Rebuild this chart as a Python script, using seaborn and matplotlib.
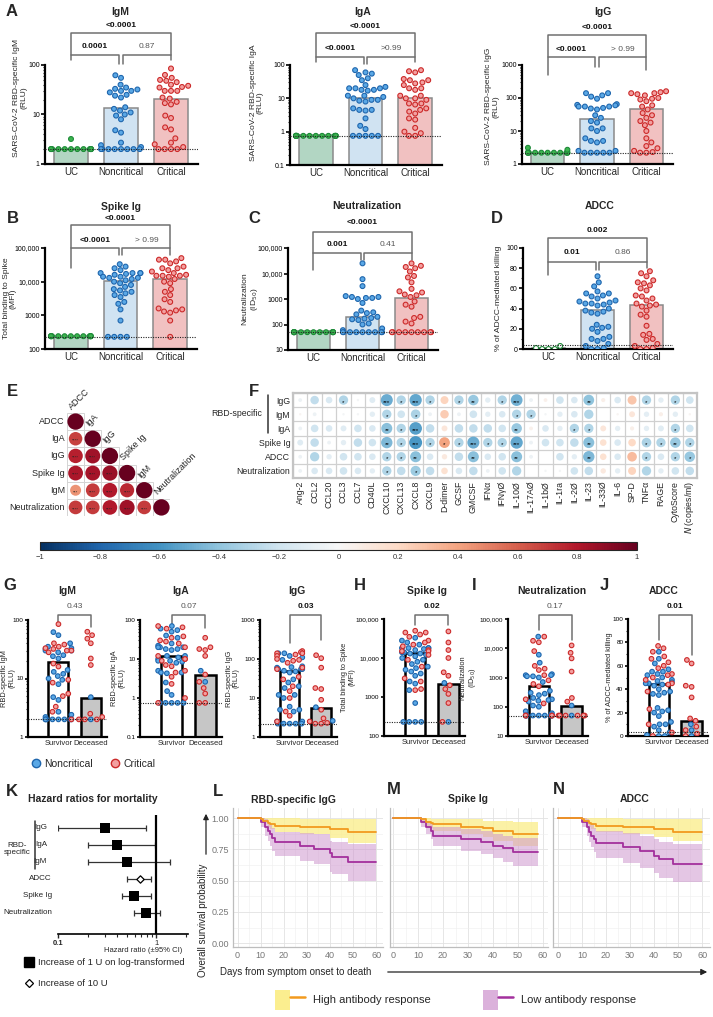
import numpy as np
import pandas as pd
import matplotlib
matplotlib.use("Agg")
import matplotlib.pyplot as plt
import seaborn as sns
from matplotlib.ticker import FixedLocator, LogLocator, NullFormatter, MultipleLocator
from matplotlib.lines import Line2D
from matplotlib.patches import Rectangle, Patch, FancyArrowPatch
from matplotlib.colors import to_rgba, Normalize
from matplotlib.cm import ScalarMappable
from matplotlib.legend_handler import HandlerTuple
import matplotlib.transforms as mtransforms
import warnings
warnings.filterwarnings("ignore")

sns.set_theme(style="ticks")
plt.rcParams["font.family"] = ["Liberation Sans", "DejaVu Sans"]

# ---------------------------------------------------------------
# data: panels A-D (UC / Noncritical / Critical)
# ---------------------------------------------------------------
IgM_UC = [2.0, 2.0, 2.0, 2.0, 2.0, 2.0, 2.0, 2.0, 2.0, 2.0, 2.0, 2.0, 3.2]
IgM_NC = [62, 55, 40, 35, 33, 32, 30, 30, 28, 25, 24, 22, 14, 13, 12, 11, 10, 9.5, 8, 4.8, 4.3,
          2.7, 2.4, 2.2, 2.0, 2.0, 2.0, 2.0, 2.0, 2.0, 2.0, 2.0]
IgM_CR = [85, 63, 55, 50, 48, 45, 40, 38, 36, 35, 30, 30, 30, 22, 21, 18, 17, 16, 9.5, 8.5, 5.5,
          5.0, 3.3, 2.7, 2.5, 2.2, 2.0, 2.0, 2.0, 2.0]
IgM_bars = [2.0, 13.5, 21]

IgA_UC = [0.75, 0.75, 0.75, 0.75, 0.75, 0.75, 0.75, 0.75, 0.75, 0.75, 0.75, 0.75, 0.75, 0.75]
IgA_NC = [70, 60, 55, 50, 40, 35, 25, 22, 20, 20, 20, 18, 18, 17, 12, 12, 11, 10, 9.0, 9.0, 8.5,
          8.0, 5.0, 4.5, 4.5, 4.3, 2.5, 1.5, 1.2, 0.75, 0.75, 0.75, 0.75, 0.75]
IgA_CR = [70, 65, 60, 38, 35, 35, 30, 28, 25, 20, 20, 18, 12, 12, 10, 10, 9.0, 7.0, 7.0, 6.5, 5.0,
          4.5, 4.0, 3.5, 2.5, 2.3, 1.3, 1.0, 0.9, 0.75, 0.75]
IgA_bars = [0.8, 10.5, 10.5]

IgG_UC = [2.2, 2.2, 2.2, 2.2, 2.2, 2.2, 2.2, 2.2, 2.2, 2.2, 2.2, 2.2, 2.7, 3.1]
IgG_NC = [140, 140, 120, 110, 95, 65, 62, 60, 55, 55, 55, 50, 48, 45, 30, 25, 20, 18, 12, 12, 10,
          6.0, 5.0, 5.0, 4.5, 2.5, 2.5, 2.2, 2.2, 2.2, 2.2, 2.2]
IgG_CR = [160, 150, 140, 140, 130, 120, 100, 95, 90, 80, 60, 55, 45, 35, 30, 25, 20, 18, 15, 10,
          6.0, 4.5, 3.5, 3.0, 2.5, 2.3, 2.2, 2.2]
IgG_bars = [2.2, 23, 46]

Spike_UC = [240, 240, 240, 240, 240, 240, 240, 240, 240, 240, 240, 240, 240, 240]
Spike_NC = [33000, 28000, 25000, 22000, 18000, 18000, 18000, 18000, 17000, 16000, 14000, 14000,
            13000, 13000, 12000, 11000, 10000, 9000, 8000, 7000, 6000, 5500, 5000, 4500, 4000,
            3500, 2500, 2200, 1500, 700, 230, 230, 230, 230]
Spike_CR = [50000, 45000, 45000, 40000, 35000, 28000, 25000, 25000, 22000, 20000, 18000, 16000,
            15000, 15000, 15000, 14000, 12000, 10000, 9000, 6000, 5000, 4000, 3000, 2500, 1600,
            1500, 1400, 1300, 1200, 700, 230]
Spike_bars = [240, 10500, 12000]

Neut_UC = [50, 50, 50, 50, 50, 50, 50, 50, 50, 50, 50, 50, 50, 50]
Neut_NC = [25000, 6000, 3200, 1300, 1200, 1200, 1100, 1100, 1000, 700, 350, 300, 280, 250, 200,
           180, 170, 160, 150, 110, 100, 70, 60, 50, 50, 50, 50, 50, 50, 50, 50, 50]
Neut_CR = [25000, 20000, 18000, 16000, 12000, 8000, 7000, 4500, 2500, 2000, 1800, 1500, 1400,
           1200, 800, 600, 500, 200, 180, 130, 110, 50, 50, 50, 50, 50, 50, 50, 50, 50]
Neut_bars = [55, 200, 1100]

ADCC_UC = [0, 3, 0, 1, 0]
ADCC_NC = [72, 66, 62, 57, 55, 55, 53, 52, 50, 48, 47, 46, 45, 45, 44, 43, 40, 38, 37, 36, 35,
           24, 22, 21, 20, 17, 12, 10, 10, 8, 5, 3, 1, 0, 0]
ADCC_CR = [77, 75, 72, 68, 66, 65, 63, 60, 58, 53, 52, 50, 48, 45, 44, 43, 42, 38, 34, 32, 23,
           15, 14, 10, 9, 5, 3, 1, 0, 0]
ADCC_bars = [0.5, 38.5, 43.5]

# ---------------------------------------------------------------
# data: panels G-J (Survivor / Deceased), survivor noncritical = lists above
# ---------------------------------------------------------------
G_IgM_S_CR = [85, 40, 38, 35, 33, 32, 30, 30, 28, 18, 16, 9.5, 8.5, 5.5, 5.0, 3.3, 2.7, 2.0]
G_IgM_D_NC = [4.8, 2.0]
G_IgM_D_CR = [63, 55, 48, 40, 22, 17, 2.5, 2.2, 2.0, 2.0, 2.0]
G_IgM_bars = [19, 4.7]

G_IgA_S_CR = [70, 65, 60, 38, 35, 30, 28, 25, 20, 12, 10, 10, 9.0, 7.0, 6.5, 5.0, 4.5, 3.5, 2.3,
              1.0, 0.75]
G_IgA_D_NC = [5.0, 2.6]
G_IgA_D_CR = [35, 20, 18, 17, 12, 4.0, 2.6, 1.8, 1.3, 0.75, 0.75]
G_IgA_bars = [12, 4.0]

G_IgG_S_CR = [160, 150, 140, 140, 130, 120, 100, 95, 90, 80, 60, 55, 35, 30, 20, 15, 10, 4.5,
              3.5, 2.5]
G_IgG_D_NC = [5.8, 2.6]
G_IgG_D_CR = [125, 105, 60, 18, 17, 9.0, 5.0, 3.0, 2.5, 2.3, 2.2, 2.2]
G_IgG_bars = [48, 5.7]

H_S_CR = [50000, 45000, 45000, 40000, 35000, 28000, 25000, 22000, 20000, 16000, 15000, 15000,
          12000, 9000, 6000, 3000, 2500, 1600, 1500]
H_D_NC = [2300, 230]
H_D_CR = [48000, 25000, 16000, 10000, 4300, 3500, 2000, 1600, 1200, 700, 230]
H_bars = [13500, 2200]

I_S_CR = [25000, 18000, 16000, 8000, 2500, 2000, 1800, 1200, 800, 600, 500, 180, 130, 50, 50,
          50, 50]
I_D_NC = [110, 50]
I_D_CR = [12500, 7000, 4500, 1600, 200, 150, 50, 50, 50, 50, 50, 50]
I_bars = [520, 110]

J_S_CR = [77, 75, 72, 68, 66, 63, 60, 58, 53, 52, 50, 48, 45, 44, 38, 23, 10, 3, 0]
J_D_NC = [10, 5, 0]
J_D_CR = [65, 62, 43, 42, 33, 15, 13, 8, 5, 2, 0]
J_bars = [44.5, 13]

# ---------------------------------------------------------------
# data: panel E (correlation between antibody readouts)
# ---------------------------------------------------------------
E_labels = ["ADCC", "IgA", "IgG", "Spike Ig", "IgM", "Neutralization"]
E_r = [[1.0],
       [0.68, 1.0],
       [0.78, 0.85, 1.0],
       [0.82, 0.83, 0.86, 1.0],
       [0.45, 0.70, 0.80, 0.75, 1.0],
       [0.70, 0.70, 0.80, 0.85, 0.70, 1.0]]
E_stars = [[""],
           ["****", ""],
           ["****", "****", ""],
           ["****", "****", "****", ""],
           ["***", "****", "****", "****", ""],
           ["****", "****", "****", "****", "****", ""]]

# ---------------------------------------------------------------
# data: panel F (correlation with cytokines)
# ---------------------------------------------------------------
F_rows = ["IgG", "IgM", "IgA", "Spike Ig", "ADCC", "Neutralization"]
F_cols = ["Ang-2", "CCL2", "CCL20", "CCL3", "CCL7", "CD40L", "CXCL10", "CXCL13", "CXCL8",
          "CXCL9", "D-dimer", "GCSF", "GMCSF", "IFNα", "IFNγØ", "IL-10Ø", "IL-17AØ", "IL-1bØ",
          "IL-1ra", "IL-2Ø", "IL-23", "IL-33Ø", "IL-6", "SP-D", "TNFα", "RAGE", "CytoScore",
          r"$\it{N}$ (copies/ml)"]
F_IgG = [-0.05, -0.25, -0.15, -0.3, -0.02, -0.12, -0.5, -0.3, -0.52, -0.3, 0.22, -0.3, -0.38,
         -0.1, -0.3, -0.48, -0.05, 0.05, -0.2, -0.15, -0.4, 0.06, -0.15, 0.28, -0.3, -0.1, -0.3, -0.2]
F_IgM = [0.02, -0.05, 0.0, -0.02, -0.02, -0.1, -0.3, -0.2, -0.32, -0.05, 0.25, -0.05, -0.2,
         -0.1, -0.15, -0.3, -0.3, -0.02, -0.1, -0.15, -0.3, 0.0, 0.02, 0.12, -0.1, 0.06, -0.1, 0.02]
F_IgA = [-0.05, -0.2, -0.15, -0.12, -0.2, -0.15, -0.42, -0.3, -0.55, -0.25, 0.12, -0.25, -0.25,
         -0.25, -0.2, -0.38, 0.05, -0.15, -0.1, -0.3, -0.3, 0.12, -0.1, 0.06, -0.1, -0.12, -0.3, -0.2]
F_Spike = [-0.12, -0.25, -0.05, -0.1, -0.25, -0.2, -0.45, -0.3, -0.58, -0.3, 0.4, -0.3, -0.5,
           -0.3, -0.3, -0.52, -0.05, -0.2, -0.2, -0.25, -0.42, 0.15, -0.15, 0.2, -0.32, -0.3, -0.38, -0.3]
F_ADCC = [-0.05, -0.3, -0.1, -0.2, -0.2, -0.15, -0.3, -0.3, -0.42, -0.15, 0.1, -0.25, -0.42,
          -0.15, -0.2, -0.42, -0.05, 0.0, -0.2, -0.1, -0.45, 0.15, -0.15, 0.32, -0.3, -0.15, -0.3, -0.38]
F_Neut = [-0.05, -0.15, -0.15, -0.2, -0.15, -0.1, -0.3, -0.25, -0.36, -0.25, 0.15, -0.15, -0.25,
          -0.05, -0.2, -0.3, 0.0, -0.02, -0.02, -0.2, -0.25, 0.1, -0.1, 0.22, -0.3, -0.1, -0.2, -0.25]
F_stars_IgG = {3: "*", 6: "***", 7: "*", 8: "***", 9: "*", 11: "*", 12: "**", 14: "*", 15: "***",
               20: "**", 24: "*", 26: "*"}
F_stars_IgM = {6: "*", 8: "*", 15: "*", 16: "*"}
F_stars_IgA = {6: "**", 7: "*", 8: "***", 15: "**", 19: "*", 20: "*", 26: "*"}
F_stars_Spike = {6: "**", 7: "*", 8: "***", 9: "*", 10: "*", 11: "*", 12: "***", 13: "*", 14: "*",
                 15: "***", 20: "**", 24: "*", 25: "*", 26: "**", 27: "*"}
F_stars_ADCC = {6: "*", 7: "*", 8: "**", 12: "**", 15: "**", 20: "**", 24: "*", 26: "*", 27: "*"}
F_stars_Neut = {6: "*", 8: "*"}

# ---------------------------------------------------------------
# data: panel K (hazard ratios)
# ---------------------------------------------------------------
K_labels = ["IgG", "IgA", "IgM", "ADCC", "Spike Ig", "Neutralization"]
K_hr = [0.30, 0.40, 0.50, 0.69, 0.59, 0.79]
K_lo = [0.10, 0.20, 0.20, 0.50, 0.45, 0.59]
K_hi = [0.79, 0.96, 1.39, 0.89, 0.89, 1.08]
K_marker = ["s", "s", "s", "D", "s", "s"]

# ---------------------------------------------------------------
# data: panels L-N (survival curves)
# ---------------------------------------------------------------
L_high_t = [0, 10, 11, 13, 14, 16, 27, 40, 48, 60]
L_high_s = [1.00, 0.99, 0.98, 0.96, 0.95, 0.94, 0.93, 0.91, 0.89, 0.89]
L_high_lo = [1.00, 0.98, 0.96, 0.93, 0.91, 0.89, 0.87, 0.84, 0.80, 0.80]
L_high_hi = [1.00, 1.00, 1.00, 1.00, 1.00, 1.00, 0.99, 0.99, 0.99, 0.99]
L_low_t = [0, 10, 12, 13, 14, 15, 16, 27, 33, 40, 41, 48, 60]
L_low_s = [1.00, 0.97, 0.93, 0.90, 0.87, 0.84, 0.81, 0.78, 0.75, 0.72, 0.69, 0.65, 0.65]
L_low_lo = [1.00, 0.93, 0.86, 0.82, 0.78, 0.74, 0.70, 0.66, 0.63, 0.57, 0.55, 0.50, 0.50]
L_low_hi = [1.00, 1.00, 0.99, 0.97, 0.95, 0.92, 0.89, 0.88, 0.87, 0.82, 0.81, 0.79, 0.79]

M_high_t = [0, 11, 13, 15, 16, 27, 36, 40, 48, 58]
M_high_s = [1.00, 0.99, 0.97, 0.96, 0.95, 0.93, 0.92, 0.90, 0.87, 0.87]
M_high_lo = [1.00, 0.97, 0.94, 0.92, 0.90, 0.87, 0.85, 0.82, 0.78, 0.78]
M_high_hi = [1.00, 1.00, 1.00, 0.99, 0.99, 0.99, 0.98, 0.98, 0.97, 0.97]
M_low_t = [0, 11, 13, 15, 16, 27, 35, 40, 44, 48, 58]
M_low_s = [1.00, 0.97, 0.93, 0.90, 0.86, 0.83, 0.81, 0.78, 0.76, 0.73, 0.73]
M_low_lo = [1.00, 0.93, 0.87, 0.83, 0.78, 0.74, 0.71, 0.68, 0.65, 0.62, 0.62]
M_low_hi = [1.00, 1.00, 0.98, 0.96, 0.93, 0.91, 0.90, 0.87, 0.86, 0.84, 0.84]

N_high_t = [0, 10, 11, 13, 14, 16, 27, 40, 48, 60]
N_high_s = [1.00, 0.99, 0.98, 0.96, 0.95, 0.94, 0.93, 0.91, 0.89, 0.89]
N_high_lo = [1.00, 0.98, 0.96, 0.93, 0.91, 0.89, 0.87, 0.85, 0.82, 0.82]
N_high_hi = [1.00, 1.00, 1.00, 1.00, 1.00, 1.00, 0.99, 0.99, 0.99, 0.99]
N_low_t = [0, 10, 12, 13, 14, 15, 16, 27, 34, 40, 42, 48, 60]
N_low_s = [1.00, 0.97, 0.93, 0.89, 0.86, 0.83, 0.80, 0.77, 0.74, 0.70, 0.67, 0.63, 0.63]
N_low_lo = [1.00, 0.93, 0.86, 0.81, 0.77, 0.73, 0.68, 0.64, 0.60, 0.56, 0.52, 0.49, 0.49]
N_low_hi = [1.00, 1.00, 0.99, 0.97, 0.95, 0.92, 0.90, 0.88, 0.86, 0.83, 0.81, 0.79, 0.79]

# ---------------------------------------------------------------
# figure helpers (pixel based layout)
# ---------------------------------------------------------------
W, H = 713, 1017
fig = plt.figure(figsize=(W / 100, H / 100), dpi=100)


def box(l, t, r, b):
    return [l / W, 1 - b / H, (r - l) / W, (b - t) / H]


def ftext(x, y, s, **kw):
    fig.text(x / W, 1 - y / H, s, **kw)


def letter(x, y, s):
    ftext(x, y, s, fontsize=12, fontweight="bold", ha="center", va="center")


GROUPS = ["UC", "Noncritical", "Critical"]
OUTCOMES = ["Survivor", "Deceased"]
BLUE_F, BLUE_E = "#5aa8e6", "#1f66ad"
RED_F, RED_E = "#f3a0a0", "#cc2a2a"
GREEN_F, GREEN_E = "#3cb54f", "#1f8a3a"
BAR_FILL = ["#acdcc3", "#cae4f8", "#f9b9b9"]


def set_edges(collections, fills, edges):
    fl = np.array([to_rgba(c) for c in fills])
    ed = [to_rgba(c) for c in edges]
    for coll in collections:
        fc = coll.get_facecolors()
        if len(fc) == 0:
            continue
        idx = [int(np.argmin(((fl - c) ** 2).sum(axis=1))) for c in fc]
        coll.set_edgecolors([ed[i] for i in idx])


def style_axis(ax, bx, log, ylim, ticks, ticklabels, ylabel, xfs, tfs, lfs, lab_right,
               lab_y=0.5, tlen=3.0):
    ax.set_ylim(*ylim)
    ax.yaxis.set_major_locator(FixedLocator(ticks))
    ax.set_yticklabels(ticklabels, fontsize=tfs)
    if log:
        ax.yaxis.set_minor_locator(LogLocator(base=10, subs=np.arange(2, 10)))
        ax.yaxis.set_minor_formatter(NullFormatter())
    else:
        ax.yaxis.set_minor_locator(MultipleLocator(10))
    ax.set_ylabel(ylabel, fontsize=lfs, linespacing=1.05)
    l, t, r, b = bx
    ax.yaxis.set_label_coords((lab_right - l) / (r - l), lab_y)
    ax.set_xlabel("")
    sns.despine(ax=ax)
    for s in ["left", "bottom"]:
        ax.spines[s].set_linewidth(1.6)
        ax.spines[s].set_color("black")
    ax.tick_params(axis="y", which="major", width=1.2, length=tlen, pad=0.8, colors="black")
    ax.tick_params(axis="y", which="minor", width=0.8, length=tlen * 0.55)
    ax.tick_params(axis="x", length=0, labelsize=xfs, pad=2)


def bracket(ax, bx, x0, x1, y, leg0, leg1, label, ly, bold):
    l, t, r, b = bx
    f = lambda yy: (b - yy) / (b - t)
    tr = ax.get_xaxis_transform()
    ax.plot([x0, x0, x1, x1], [f(leg0), f(y), f(y), f(leg1)], color="#707070", lw=1.1,
            transform=tr, clip_on=False)
    ax.text((x0 + x1) / 2, f(ly), label, transform=tr, ha="center", va="center", fontsize=6,
            fontweight="bold" if bold else "normal", color="#111111" if bold else "#555555")


def group_panel(bx, uc, nc, cr, bars, lod, log, ylim, ticks, ticklabels, ylabel, lab_right,
                lab_y=0.5, uc_fill=GREEN_F):
    ax = fig.add_axes(box(*bx))
    if log:
        ax.set_yscale("log")
    sns.barplot(x=GROUPS, y=bars, hue=GROUPS, palette=BAR_FILL, edgecolor="#8a8a8a",
                linewidth=1.1, width=0.68, legend=False, ax=ax)
    df = pd.DataFrame({"group": ["UC"] * len(uc) + ["Noncritical"] * len(nc) + ["Critical"] * len(cr),
                       "value": uc + nc + cr})
    n0 = len(ax.collections)
    sns.swarmplot(data=df, x="group", y="value", hue="group", order=GROUPS, hue_order=GROUPS,
                  palette={"UC": uc_fill, "Noncritical": BLUE_F, "Critical": RED_F},
                  size=3.5, linewidth=0.8, legend=False, ax=ax)
    set_edges(ax.collections[n0:], [uc_fill, BLUE_F, RED_F], [GREEN_E, BLUE_E, RED_E])
    ax.axhline(lod, ls=(0, (1, 1.2)), color="#222222", lw=0.8, zorder=5)
    ax.set_xlim(-0.52, 2.54)
    style_axis(ax, bx, log, ylim, ticks, ticklabels, ylabel, 7, 5, 6.1, lab_right, lab_y)
    return ax


def group_brackets(ax, bx, ytop, lytop, ylow, lylow, legs, pv, bold):
    bracket(ax, bx, 0, 2, ytop, ylow, ylow, pv[0], lytop, bold[0])
    bracket(ax, bx, 0, 0.96, ylow, legs[0], legs[1], pv[1], lylow, bold[1])
    bracket(ax, bx, 1.04, 2, ylow, legs[1], legs[2], pv[2], lylow, bold[2])


def outcome_panel(bx, s_nc, s_cr, d_nc, d_cr, bars, lod, log, ylim, ticks, ticklabels, ylabel,
                  lab_right):
    ax = fig.add_axes(box(*bx))
    if log:
        ax.set_yscale("log")
    sns.barplot(x=OUTCOMES, y=bars, hue=OUTCOMES, palette=["white", "#c6c6c6"], edgecolor="black",
                linewidth=1.8, width=0.62, legend=False, ax=ax)
    df = pd.DataFrame({
        "outcome": ["Survivor"] * (len(s_nc) + len(s_cr)) + ["Deceased"] * (len(d_nc) + len(d_cr)),
        "severity": ["Noncritical"] * len(s_nc) + ["Critical"] * len(s_cr)
                    + ["Noncritical"] * len(d_nc) + ["Critical"] * len(d_cr),
        "value": s_nc + s_cr + d_nc + d_cr})
    n0 = len(ax.collections)
    sns.swarmplot(data=df, x="outcome", y="value", hue="severity", order=OUTCOMES,
                  hue_order=["Noncritical", "Critical"],
                  palette={"Noncritical": BLUE_F, "Critical": RED_F},
                  size=3.3, linewidth=0.8, legend=False, ax=ax)
    set_edges(ax.collections[n0:], [BLUE_F, RED_F], [BLUE_E, RED_E])
    ax.axhline(lod, ls=(0, (1, 1.2)), color="#222222", lw=0.8, zorder=5)
    ax.set_xlim(-0.94, 1.5)
    style_axis(ax, bx, log, ylim, ticks, ticklabels, ylabel, 5.5, 4.6, 5.3, lab_right, tlen=2.5)
    return ax


# ---------------------------------------------------------------
# A: IgM, IgA, IgG
# ---------------------------------------------------------------
bA1 = (45, 65, 198, 164)
ax = group_panel(bA1, IgM_UC, IgM_NC, IgM_CR, IgM_bars, 2.0, True, (1, 100), [1, 10, 100],
                 ["1", "10", "100"], "SARS-CoV-2 RBD-specific IgM\n(RLU)", 27, 0.67)
group_brackets(ax, bA1, 33, 26, 55, 47, [60, 64, 60], ["<0.0001", "0.0001", "0.87"], [True, True, False])

bA2 = (290, 65, 442, 165)
ax = group_panel(bA2, IgA_UC, IgA_NC, IgA_CR, IgA_bars, 0.75, True, (0.1, 100), [0.1, 1, 10, 100],
                 ["0.1", "1", "10", "100"], "SARS-CoV-2 RBD-specific IgA\n(RLU)", 264, 0.62)
group_brackets(ax, bA2, 33, 27, 57, 49, [62, 64, 62], ["<0.0001", "<0.0001", ">0.99"], [True, True, False])

bA3 = (522, 65, 673, 164)
ax = group_panel(bA3, IgG_UC, IgG_NC, IgG_CR, IgG_bars, 2.2, True, (1, 1000), [1, 10, 100, 1000],
                 ["1", "10", "100", "1000"], "SARS-CoV-2 RBD-specific IgG\n(RLU)", 499, 0.58)
group_brackets(ax, bA3, 35, 28, 57, 50, [75, 67, 70], ["<0.0001", "<0.0001", "> 0.99"], [True, True, False])

# ---------------------------------------------------------------
# B, C, D
# ---------------------------------------------------------------
bB = (45, 248, 197, 349)
ax = group_panel(bB, Spike_UC, Spike_NC, Spike_CR, Spike_bars, 230, True, (100, 100000),
                 [100, 1000, 10000, 100000], ["100", "1000", "10,000", "100,000"],
                 "Total binding to Spike\n(MFI)", 17)
group_brackets(ax, bB, 225, 218, 248, 240, [268, 255, 255], ["<0.0001", "<0.0001", "> 0.99"], [True, True, False])

bC = (288, 248, 438, 350)
ax = group_panel(bC, Neut_UC, Neut_NC, Neut_CR, Neut_bars, 50, True, (10, 100000),
                 [10, 100, 1000, 10000, 100000], ["10", "100", "1000", "10,000", "100,000"],
                 "Neutralization\n(ID$_{50}$)", 260)
group_brackets(ax, bC, 232, 223, 253, 245, [270, 260, 260], ["<0.0001", "0.001", "0.41"], [True, True, False])

bD = (523, 248, 673, 349)
ax = group_panel(bD, ADCC_UC, ADCC_NC, ADCC_CR, ADCC_bars, 3.5, False, (0, 100),
                 [0, 20, 40, 60, 80, 100], ["0", "20", "40", "60", "80", "100"],
                 "% of ADCC-mediated killing", 502, uc_fill="white")
group_brackets(ax, bD, 238, 230, 262, 253, [275, 270, 268], ["0.002", "0.01", "0.86"], [True, True, False])

# ---------------------------------------------------------------
# E: correlation triangle
# ---------------------------------------------------------------
axE = fig.add_axes(box(67, 413, 170, 516))
rowsE = []
for i, name in enumerate(E_labels):
    for j in range(i + 1):
        rowsE.append({"row": i, "col": j, "r": E_r[i][j], "stars": E_stars[i][j]})
dfE = pd.DataFrame(rowsE)
dfE["size"] = dfE["r"].abs()
for _, rw in dfE.iterrows():
    axE.add_patch(Rectangle((rw["col"] - 0.5, rw["row"] - 0.5), 1, 1, fill=False,
                            ec="#d4d4d4", lw=0.7, zorder=0))
sns.scatterplot(data=dfE, x="col", y="row", hue="r", hue_norm=(-1, 1), palette="RdBu_r",
                size="size", size_norm=(0, 1), sizes=(0, 139), linewidth=0, legend=False, ax=axE)
for _, rw in dfE.iterrows():
    if rw["stars"]:
        axE.text(rw["col"], rw["row"] + 0.12, rw["stars"], ha="center", va="center", fontsize=3.2,
                 color="#222222")
axE.set_xlim(-0.5, 5.5)
axE.set_ylim(5.5, -0.5)
axE.axis("off")
for i, name in enumerate(E_labels):
    axE.text(-0.62, i, name, ha="right", va="center", fontsize=6.5)
    axE.text(i - 0.15, i - 0.62, name, ha="left", va="bottom", rotation=45,
             rotation_mode="anchor", fontsize=6.5)

# ---------------------------------------------------------------
# F: correlation with cytokines
# ---------------------------------------------------------------
axF = fig.add_axes(box(293, 393, 697, 478))
F_r = [F_IgG, F_IgM, F_IgA, F_Spike, F_ADCC, F_Neut]
F_st = [F_stars_IgG, F_stars_IgM, F_stars_IgA, F_stars_Spike, F_stars_ADCC, F_stars_Neut]
rowsF = []
for i in range(len(F_rows)):
    for j in range(len(F_cols)):
        rowsF.append({"row": i, "col": j, "r": F_r[i][j], "stars": F_st[i].get(j, "")})
dfF = pd.DataFrame(rowsF)
dfF["size"] = dfF["r"].abs()
sns.scatterplot(data=dfF, x="col", y="row", hue="r", hue_norm=(-1, 1), palette="RdBu_r",
                size="size", size_norm=(0, 1), sizes=(0, 150), linewidth=0, legend=False, ax=axF)
for _, rw in dfF.iterrows():
    if rw["stars"]:
        axF.text(rw["col"], rw["row"] + 0.15, rw["stars"], ha="center", va="center", fontsize=4.5,
                 color="black")
axF.set_xlim(-0.5, len(F_cols) - 0.5)
axF.set_ylim(len(F_rows) - 0.5, -0.5)
axF.set_xticks(range(len(F_cols)))
axF.set_xticklabels(F_cols, rotation=90, fontsize=6.3)
axF.set_yticks(range(len(F_rows)))
axF.set_yticklabels(F_rows, fontsize=6.3)
axF.set_xticks(np.arange(-0.5, len(F_cols), 1), minor=True)
axF.set_yticks(np.arange(-0.5, len(F_rows), 1), minor=True)
axF.grid(False)
axF.grid(which="minor", color="#d0d0d0", lw=0.9)
axF.set_axisbelow(True)
axF.tick_params(which="both", length=0, pad=2)
axF.set_xlabel("")
axF.set_ylabel("")
for s in axF.spines.values():
    s.set_color("#c4c4c4")
    s.set_linewidth(1.6)
ftext(262, 414, "RBD-specific", ha="right", va="center", fontsize=6.3)
fig.add_artist(Line2D([268 / W, 268 / W], [1 - 395 / H, 1 - 433 / H], color="#333333", lw=1.1,
                      transform=fig.transFigure))

# colour bar
cax = fig.add_axes(box(40, 542, 637, 550))
cb = fig.colorbar(ScalarMappable(norm=Normalize(-1, 1), cmap="RdBu_r"), cax=cax,
                  orientation="horizontal")
cb_ticks = [-1, -0.8, -0.6, -0.4, -0.2, 0, 0.2, 0.4, 0.6, 0.8, 1]
cb.set_ticks(cb_ticks)
cb.set_ticklabels(["−1", "−0.8", "−0.6", "−0.4", "−0.2", "0", "0.2", "0.4", "0.6", "0.8", "1"])
cb.ax.tick_params(length=0, labelsize=5.5, colors="#333333", pad=3)
cb.outline.set_linewidth(0.8)

# ---------------------------------------------------------------
# G-J: survivor vs deceased
# ---------------------------------------------------------------
bG1 = (28, 620, 107, 737)
ax = outcome_panel(bG1, IgM_NC, G_IgM_S_CR, G_IgM_D_NC, G_IgM_D_CR, G_IgM_bars, 2.0, True,
                   (1, 100), [1, 10, 100], ["1", "10", "100"], "RBD-specific IgM\n(RLU)", 15)
bracket(ax, bG1, 0, 1, 615, 625, 627, "0.43", 607, False)

bG2 = (140, 620, 222, 737)
ax = outcome_panel(bG2, IgA_NC, G_IgA_S_CR, G_IgA_D_NC, G_IgA_D_CR, G_IgA_bars, 0.75, True,
                   (0.1, 100), [0.1, 1, 10, 100], ["0.1", "1", "10", "100"], "RBD-specific IgA\n(RLU)", 125)
bracket(ax, bG2, 0, 1, 615, 625, 628, "0.07", 607, False)

bG3 = (260, 620, 337, 737)
ax = outcome_panel(bG3, IgG_NC, G_IgG_S_CR, G_IgG_D_NC, G_IgG_D_CR, G_IgG_bars, 2.2, True,
                   (1, 1000), [1, 10, 100, 1000], ["1", "10", "100", "1000"], "RBD-specific IgG\n(RLU)", 240)
bracket(ax, bG3, 0, 1, 615, 643, 640, "0.03", 607, True)

bH = (384, 619, 465, 736)
ax = outcome_panel(bH, Spike_NC, H_S_CR, H_D_NC, H_D_CR, H_bars, 230, True, (100, 100000),
                   [100, 1000, 10000, 100000], ["100", "1000", "10,000", "100,000"],
                   "Total binding to Spike\n(MFI)", 355)
bracket(ax, bH, 0, 1, 615, 625, 625, "0.02", 607, True)

bI = (508, 619, 588, 736)
ax = outcome_panel(bI, Neut_NC, I_S_CR, I_D_NC, I_D_CR, I_bars, 50, True, (10, 100000),
                   [10, 100, 1000, 10000, 100000], ["10", "100", "1000", "10,000", "100,000"],
                   "Neutralization\n(ID$_{50}$)", 478)
bracket(ax, bI, 0, 1, 615, 630, 640, "0.17", 607, False)

bJ = (628, 619, 708, 736)
ax = outcome_panel(bJ, ADCC_NC, J_S_CR, J_D_NC, J_D_CR, J_bars, 3.5, False, (0, 100),
                   [0, 20, 40, 60, 80, 100], ["0", "20", "40", "60", "80", "100"],
                   "% of ADCC-mediated killing", 613)
bracket(ax, bJ, 0, 1, 615, 640, 655, "0.01", 607, True)

sev_handles = [Line2D([], [], marker="o", ls="none", mfc=BLUE_F, mec=BLUE_E, mew=1.0, markersize=6),
               Line2D([], [], marker="o", ls="none", mfc=RED_F, mec=RED_E, mew=1.0, markersize=6)]
fig.legend(sev_handles, ["Noncritical", "Critical"], loc="center left",
           bbox_to_anchor=(31 / W, 1 - 764 / H), ncol=2, frameon=False, fontsize=7.5,
           handletextpad=0.3, handlelength=1.0, columnspacing=1.6, borderpad=0, borderaxespad=0)

# ---------------------------------------------------------------
# K: hazard ratios
# ---------------------------------------------------------------
axK = fig.add_axes(box(58, 815, 188, 934))
axK.set_xscale("log")
ky = list(range(len(K_labels)))
xerr = [[h - lo for h, lo in zip(K_hr, K_lo)], [hi - h for h, hi in zip(K_hr, K_hi)]]
axK.errorbar(K_hr, ky, xerr=xerr, fmt="none", ecolor="#333333", elinewidth=0.9, capsize=2,
             capthick=0.9)
dfK = pd.DataFrame({"hr": K_hr, "y": ky, "m": K_marker})
sq = dfK[dfK["m"] == "s"]
dm = dfK[dfK["m"] == "D"]
sns.scatterplot(data=sq, x="hr", y="y", marker="s", color="black", s=45, linewidth=0, ax=axK, zorder=4)
sns.scatterplot(data=dm, x="hr", y="y", marker="D", color="white", edgecolor="black", s=14,
                linewidth=0.9, ax=axK, zorder=4)
axK.axvline(1, color="black", lw=1.6)
axK.set_xlim(0.1, 2.1)
axK.set_ylim(6.24, -0.76)
axK.xaxis.set_major_locator(FixedLocator([0.1, 1]))
axK.set_xticklabels(["0.1", "1"], fontsize=5.5)
axK.get_xticklabels()[0].set_fontweight("bold")
axK.xaxis.set_minor_locator(FixedLocator([0.2, 0.3, 0.4, 0.5, 0.6, 0.7, 0.8, 0.9, 2]))
axK.xaxis.set_minor_formatter(NullFormatter())
axK.tick_params(axis="x", which="major", length=3.0, width=1.0, pad=1.0)
axK.tick_params(axis="x", which="minor", length=2, width=0.8)
axK.set_yticks([])
axK.set_ylabel("")
axK.set_xlabel("")
for s in ["left", "top", "right"]:
    axK.spines[s].set_visible(False)
axK.spines["bottom"].set_color("black")
axK.spines["bottom"].set_linewidth(1.2)
ktr = mtransforms.blended_transform_factory(axK.transAxes, axK.transData)
for i, name in enumerate(K_labels):
    xa = (47 - 58) / 130 if i < 3 else (52 - 58) / 130
    axK.text(xa, i, name, transform=ktr, ha="right", va="center", fontsize=5.8, color="#222222")
axK.plot([(35 - 58) / 130] * 2, [-0.4, 2.4], transform=ktr, color="#333333", lw=1.1, clip_on=False)
axK.text((17 - 58) / 130, 1.25, "RBD-\nspecific", transform=ktr, ha="center", va="center",
         fontsize=5.8, linespacing=1.0, color="#222222")
ftext(143, 951, "Hazard ratio (±95% CI)", fontsize=5.5, ha="center", va="center")
ftext(28, 799, "Hazard ratios for mortality", fontsize=7.5, fontweight="bold", ha="left", va="center")
k_handles = [Line2D([], [], marker="s", ls="none", color="black", markersize=6.5),
             Line2D([], [], marker="D", ls="none", mfc="white", mec="black", mew=0.9, markersize=4.5)]
fig.legend(k_handles, ["Increase of 1 U on log-transformed", "Increase of 10 U"], loc="upper left",
           bbox_to_anchor=(24 / W, 1 - 958 / H), frameon=False, fontsize=6.8, handletextpad=0.5,
           handlelength=1.0, labelspacing=1.3, borderpad=0, borderaxespad=0)

# ---------------------------------------------------------------
# L-N: survival curves
# ---------------------------------------------------------------
HIGH_C, HIGH_BAND = "#f29a1e", "#fbee8f"
LOW_C, LOW_BAND = "#a3309d", "#cf97cf"


def km_panel(bx, xlim, high, low, show_y):
    ax = fig.add_axes(box(*bx))
    t, s, lo, hi = high
    ax.fill_between(t, lo, hi, step="post", color=HIGH_BAND, alpha=0.8, lw=0, zorder=1)
    t2, s2, lo2, hi2 = low
    ax.fill_between(t2, lo2, hi2, step="post", color=LOW_BAND, alpha=0.55, lw=0, zorder=2)
    sns.lineplot(x=t, y=s, drawstyle="steps-post", color=HIGH_C, lw=1.3, estimator=None, ax=ax, zorder=4)
    sns.lineplot(x=t2, y=s2, drawstyle="steps-post", color=LOW_C, lw=1.3, estimator=None, ax=ax, zorder=3)
    ax.set_xlim(*xlim)
    ax.set_ylim(-0.03, 1.08)
    ax.set_xticks(range(0, 61, 10))
    ax.xaxis.set_minor_locator(MultipleLocator(5))
    ax.set_yticks([0, 0.25, 0.5, 0.75, 1.0])
    ax.yaxis.set_minor_locator(MultipleLocator(0.125))
    ax.grid(which="major", color="#e2e2e2", lw=0.6)
    ax.grid(which="minor", color="#eeeeee", lw=0.4)
    ax.set_axisbelow(True)
    ax.tick_params(which="both", length=0, labelsize=6.5, colors="#777777", pad=3)
    if show_y:
        ax.set_yticklabels(["0.00", "0.25", "0.50", "0.75", "1.00"])
    else:
        ax.set_yticklabels([])
    ax.set_xlabel("")
    ax.set_ylabel("")
    for s_ in ["top", "right"]:
        ax.spines[s_].set_visible(False)
    for s_ in ["left", "bottom"]:
        ax.spines[s_].set_color("#bdbdbd")
        ax.spines[s_].set_linewidth(0.9)
    return ax


km_panel((233, 808, 383, 947), (-2, 63), (L_high_t, L_high_s, L_high_lo, L_high_hi),
         (L_low_t, L_low_s, L_low_lo, L_low_hi), True)
km_panel((390, 808, 548, 947), (-1.2, 62), (M_high_t, M_high_s, M_high_lo, M_high_hi),
         (M_low_t, M_low_s, M_low_lo, M_low_hi), False)
km_panel((553, 808, 710, 947), (-2, 63.3), (N_high_t, N_high_s, N_high_lo, N_high_hi),
         (N_low_t, N_low_s, N_low_lo, N_low_hi), False)

ftext(293, 800, "RBD-specific IgG", fontsize=7.5, fontweight="bold", ha="center", va="center")
ftext(468, 799, "Spike Ig", fontsize=7.5, fontweight="bold", ha="center", va="center")
ftext(635, 799, "ADCC", fontsize=7.5, fontweight="bold", ha="center", va="center")

ftext(203, 920, "Overall survival probability", rotation=90, fontsize=7, ha="center", va="center")
fig.add_artist(FancyArrowPatch((206 / W, 1 - 857 / H), (206 / W, 1 - 811 / H),
                               transform=fig.transFigure, arrowstyle="-|>", mutation_scale=8,
                               color="#222222", lw=0.9))
ftext(220, 972, "Days from symptom onset to death", fontsize=7, ha="left", va="center")
fig.add_artist(FancyArrowPatch((385 / W, 1 - 972 / H), (710 / W, 1 - 972 / H),
                               transform=fig.transFigure, arrowstyle="-|>", mutation_scale=9,
                               color="#222222", lw=0.9))

hi_h = (Patch(facecolor=HIGH_BAND, edgecolor="none"), Line2D([], [], color=HIGH_C, lw=1.8))
lo_h = (Patch(facecolor=LOW_BAND, edgecolor="none", alpha=0.75), Line2D([], [], color=LOW_C, lw=1.8))
fig.legend([hi_h], ["High antibody response"], handler_map={tuple: HandlerTuple(ndivide=None, pad=0)},
           loc="center left", bbox_to_anchor=(275 / W, 1 - 1000 / H), frameon=False, fontsize=8,
           handlelength=2.7, handleheight=2.4, handletextpad=0.7, borderpad=0, borderaxespad=0)
fig.legend([lo_h], ["Low antibody response"], handler_map={tuple: HandlerTuple(ndivide=None, pad=0)},
           loc="center left", bbox_to_anchor=(483 / W, 1 - 1000 / H), frameon=False, fontsize=8,
           handlelength=2.7, handleheight=2.4, handletextpad=0.7, borderpad=0, borderaxespad=0)

# ---------------------------------------------------------------
# titles and panel letters
# ---------------------------------------------------------------
for x, y, s in [(120, 12, "IgM"), (363, 12, "IgA"), (603, 12, "IgG"),
                (121, 207, "Spike Ig"), (367, 206, "Neutralization"), (600, 206, "ADCC"),
                (67, 591, "IgM"), (181, 591, "IgA"), (297, 591, "IgG"),
                (427, 591, "Spike Ig"), (552, 591, "Neutralization"), (664, 591, "ADCC")]:
    ftext(x, y, s, fontsize=7.5, fontweight="bold", ha="center", va="center")

for x, y, s in [(12, 12, "A"), (13, 218, "B"), (254, 218, "C"), (497, 218, "D"),
                (12, 392, "E"), (254, 392, "F"), (10, 585, "G"), (360, 585, "H"),
                (474, 585, "I"), (604, 585, "J"), (12, 791, "K"), (218, 792, "L"),
                (394, 790, "M"), (559, 790, "N")]:
    letter(x, y, s)

fig.savefig("out.png", dpi=100)
